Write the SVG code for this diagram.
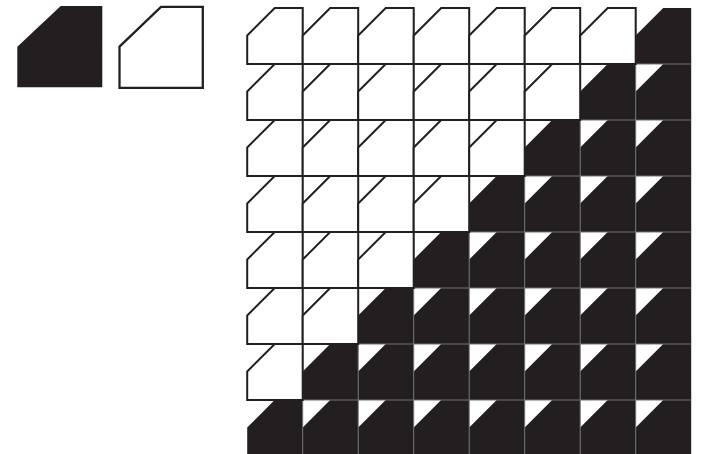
<svg xmlns="http://www.w3.org/2000/svg" xmlns:xlink="http://www.w3.org/1999/xlink" width="704" height="454" viewBox="0 0 704 454">
<style>
.w{fill:#ffffff;stroke:#231f20;stroke-width:2;stroke-linejoin:miter}
.b{fill:#231f20;stroke:none}
.g{stroke:#707072;stroke-width:1;fill:none}
</style>
<defs>
<polygon id="cell" points="0,27.5 27.5,0 55.5,0 55.5,56 0,56"/>
</defs>
<rect x="0" y="0" width="704" height="454" fill="#ffffff"/>
<g id="legend-black"><polygon class="b" points="17.3,46.7 60.7,6 102.3,6 102.3,87.3 17.3,87.3"/></g>
<g id="legend-white"><polygon class="w" style="stroke-width:2.3" points="119.5,46.7 161,6.9 202.8,6.9 202.8,87.8 119.5,87.8"/></g>
<g id="black-cells">
<g id="cell-r0-c7"><use href="#cell" class="b" x="635.7" y="8"/></g>
<g id="cell-r1-c6"><use href="#cell" class="b" x="580.2" y="64"/></g>
<g id="cell-r1-c7"><use href="#cell" class="b" x="635.7" y="64"/></g>
<g id="cell-r2-c5"><use href="#cell" class="b" x="524.7" y="120"/></g>
<g id="cell-r2-c6"><use href="#cell" class="b" x="580.2" y="120"/></g>
<g id="cell-r2-c7"><use href="#cell" class="b" x="635.7" y="120"/></g>
<g id="cell-r3-c4"><use href="#cell" class="b" x="469.2" y="176"/></g>
<g id="cell-r3-c5"><use href="#cell" class="b" x="524.7" y="176"/></g>
<g id="cell-r3-c6"><use href="#cell" class="b" x="580.2" y="176"/></g>
<g id="cell-r3-c7"><use href="#cell" class="b" x="635.7" y="176"/></g>
<g id="cell-r4-c3"><use href="#cell" class="b" x="413.7" y="232"/></g>
<g id="cell-r4-c4"><use href="#cell" class="b" x="469.2" y="232"/></g>
<g id="cell-r4-c5"><use href="#cell" class="b" x="524.7" y="232"/></g>
<g id="cell-r4-c6"><use href="#cell" class="b" x="580.2" y="232"/></g>
<g id="cell-r4-c7"><use href="#cell" class="b" x="635.7" y="232"/></g>
<g id="cell-r5-c2"><use href="#cell" class="b" x="358.2" y="288"/></g>
<g id="cell-r5-c3"><use href="#cell" class="b" x="413.7" y="288"/></g>
<g id="cell-r5-c4"><use href="#cell" class="b" x="469.2" y="288"/></g>
<g id="cell-r5-c5"><use href="#cell" class="b" x="524.7" y="288"/></g>
<g id="cell-r5-c6"><use href="#cell" class="b" x="580.2" y="288"/></g>
<g id="cell-r5-c7"><use href="#cell" class="b" x="635.7" y="288"/></g>
<g id="cell-r6-c1"><use href="#cell" class="b" x="302.7" y="344"/></g>
<g id="cell-r6-c2"><use href="#cell" class="b" x="358.2" y="344"/></g>
<g id="cell-r6-c3"><use href="#cell" class="b" x="413.7" y="344"/></g>
<g id="cell-r6-c4"><use href="#cell" class="b" x="469.2" y="344"/></g>
<g id="cell-r6-c5"><use href="#cell" class="b" x="524.7" y="344"/></g>
<g id="cell-r6-c6"><use href="#cell" class="b" x="580.2" y="344"/></g>
<g id="cell-r6-c7"><use href="#cell" class="b" x="635.7" y="344"/></g>
<g id="cell-r7-c0"><use href="#cell" class="b" x="247.2" y="400"/></g>
<g id="cell-r7-c1"><use href="#cell" class="b" x="302.7" y="400"/></g>
<g id="cell-r7-c2"><use href="#cell" class="b" x="358.2" y="400"/></g>
<g id="cell-r7-c3"><use href="#cell" class="b" x="413.7" y="400"/></g>
<g id="cell-r7-c4"><use href="#cell" class="b" x="469.2" y="400"/></g>
<g id="cell-r7-c5"><use href="#cell" class="b" x="524.7" y="400"/></g>
<g id="cell-r7-c6"><use href="#cell" class="b" x="580.2" y="400"/></g>
<g id="cell-r7-c7"><use href="#cell" class="b" x="635.7" y="400"/></g>
</g>
<g id="grid-lines" class="g">
<line x1="302.7" y1="8" x2="302.7" y2="454"/>
<line x1="358.2" y1="8" x2="358.2" y2="454"/>
<line x1="413.7" y1="8" x2="413.7" y2="454"/>
<line x1="469.2" y1="8" x2="469.2" y2="454"/>
<line x1="524.7" y1="8" x2="524.7" y2="454"/>
<line x1="580.2" y1="8" x2="580.2" y2="454"/>
<line x1="635.7" y1="8" x2="635.7" y2="454"/>
<line x1="247.2" y1="64" x2="691.2" y2="64"/>
<line x1="247.2" y1="120" x2="691.2" y2="120"/>
<line x1="247.2" y1="176" x2="691.2" y2="176"/>
<line x1="247.2" y1="232" x2="691.2" y2="232"/>
<line x1="247.2" y1="288" x2="691.2" y2="288"/>
<line x1="247.2" y1="344" x2="691.2" y2="344"/>
<line x1="247.2" y1="400" x2="691.2" y2="400"/>
</g>
<g id="white-cells">
<g id="cell-r0-c0"><use href="#cell" class="w" x="247.2" y="8"/></g>
<g id="cell-r0-c1"><use href="#cell" class="w" x="302.7" y="8"/></g>
<g id="cell-r0-c2"><use href="#cell" class="w" x="358.2" y="8"/></g>
<g id="cell-r0-c3"><use href="#cell" class="w" x="413.7" y="8"/></g>
<g id="cell-r0-c4"><use href="#cell" class="w" x="469.2" y="8"/></g>
<g id="cell-r0-c5"><use href="#cell" class="w" x="524.7" y="8"/></g>
<g id="cell-r0-c6"><use href="#cell" class="w" x="580.2" y="8"/></g>
<g id="cell-r1-c0"><use href="#cell" class="w" x="247.2" y="64"/></g>
<g id="cell-r1-c1"><use href="#cell" class="w" x="302.7" y="64"/></g>
<g id="cell-r1-c2"><use href="#cell" class="w" x="358.2" y="64"/></g>
<g id="cell-r1-c3"><use href="#cell" class="w" x="413.7" y="64"/></g>
<g id="cell-r1-c4"><use href="#cell" class="w" x="469.2" y="64"/></g>
<g id="cell-r1-c5"><use href="#cell" class="w" x="524.7" y="64"/></g>
<g id="cell-r2-c0"><use href="#cell" class="w" x="247.2" y="120"/></g>
<g id="cell-r2-c1"><use href="#cell" class="w" x="302.7" y="120"/></g>
<g id="cell-r2-c2"><use href="#cell" class="w" x="358.2" y="120"/></g>
<g id="cell-r2-c3"><use href="#cell" class="w" x="413.7" y="120"/></g>
<g id="cell-r2-c4"><use href="#cell" class="w" x="469.2" y="120"/></g>
<g id="cell-r3-c0"><use href="#cell" class="w" x="247.2" y="176"/></g>
<g id="cell-r3-c1"><use href="#cell" class="w" x="302.7" y="176"/></g>
<g id="cell-r3-c2"><use href="#cell" class="w" x="358.2" y="176"/></g>
<g id="cell-r3-c3"><use href="#cell" class="w" x="413.7" y="176"/></g>
<g id="cell-r4-c0"><use href="#cell" class="w" x="247.2" y="232"/></g>
<g id="cell-r4-c1"><use href="#cell" class="w" x="302.7" y="232"/></g>
<g id="cell-r4-c2"><use href="#cell" class="w" x="358.2" y="232"/></g>
<g id="cell-r5-c0"><use href="#cell" class="w" x="247.2" y="288"/></g>
<g id="cell-r5-c1"><use href="#cell" class="w" x="302.7" y="288"/></g>
<g id="cell-r6-c0"><use href="#cell" class="w" x="247.2" y="344"/></g>
</g>
</svg>
